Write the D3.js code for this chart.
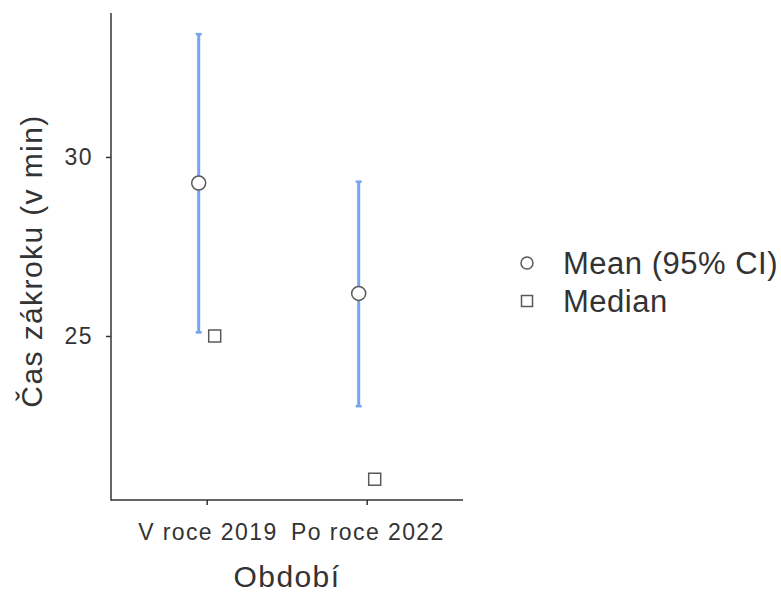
<!DOCTYPE html>
<html><head><meta charset="utf-8">
<script src="https://cdn.jsdelivr.net/npm/d3@7"></script>
<style>body{margin:0;background:#fff}svg{display:block}text{font-family:"Liberation Sans",Arial,sans-serif;fill:#333}</style>
</head><body><svg id="c" width="781" height="593"></svg>
<script>
const categories = ["V roce 2019", "Po roce 2022"];
const means = [29.27, 26.19];
const ciLower = [25.1, 23.04];
const ciUpper = [33.43, 29.31];
const medians = [25.0, 21.0];
const yTicks = [25, 30];
const legendLabels = ["Mean (95% CI)", "Median"];

const svg = d3.select("#c");
const plot = {left: 111, right: 463, top: 13, bottom: 500};
const y = d3.scaleLinear().domain([20.42, 34.02]).range([plot.bottom, plot.top]);
const x = d3.scalePoint().domain(categories).range([206.7, 366.7]);
const dodge = 8;
const axisColor = "#333";
const fontFam = '"Liberation Sans",Arial,sans-serif';

// axes
const yAxis = svg.append("g").attr("transform", `translate(${plot.left},0)`)
  .call(d3.axisLeft(y).tickValues(yTicks).tickSize(5).tickPadding(13).tickFormat(d3.format("d")));
const xAxis = svg.append("g").attr("transform", `translate(0,${plot.bottom})`)
  .call(d3.axisBottom(x).tickSize(5).tickPadding(0));
[yAxis, xAxis].forEach(g => {
  g.select(".domain").remove();
  g.selectAll(".tick line").attr("stroke", axisColor).attr("stroke-width", 1.5);
  g.selectAll(".tick text").attr("fill", "#444").style("font-size", "23px")
    .style("font-family", fontFam).style("letter-spacing", "1.4px");
});
xAxis.selectAll(".tick text").attr("dy", null).attr("y", 40).attr("dx", "0.7px");
svg.append("line").attr("x1", plot.left).attr("x2", plot.left).attr("y1", plot.top).attr("y2", plot.bottom + 0.75)
  .attr("stroke", axisColor).attr("stroke-width", 1.5);
svg.append("line").attr("x1", plot.left).attr("x2", plot.right).attr("y1", plot.bottom).attr("y2", plot.bottom)
  .attr("stroke", axisColor).attr("stroke-width", 1.5);

// axis titles
svg.append("text").attr("transform", `translate(42,261) rotate(-90)`)
  .attr("text-anchor", "middle").style("font-size", "30px").attr("fill", "#333")
  .style("letter-spacing", "1.4px").text("Čas zákroku (v min)");
svg.append("text").attr("x", 287).attr("y", 587)
  .attr("text-anchor", "middle").style("font-size", "30px").attr("fill", "#333")
  .style("letter-spacing", "1.4px").text("Období");

const blue = "#76a5ee";
const grey = "#595959";
// CI bars
const g = svg.append("g");
categories.forEach((c, i) => {
  const cx = x(c) - dodge;
  g.append("line").attr("x1", cx).attr("x2", cx).attr("y1", y(ciLower[i])).attr("y2", y(ciUpper[i]))
    .attr("stroke", blue).attr("stroke-width", 3);
  [ciLower[i], ciUpper[i]].forEach(v => {
    g.append("line").attr("x1", cx - 3).attr("x2", cx + 3).attr("y1", y(v)).attr("y2", y(v))
      .attr("stroke", blue).attr("stroke-width", 2.5);
  });
});
// means
g.selectAll("circle.mean").data(categories).join("circle").attr("class", "mean")
  .attr("cx", c => x(c) - dodge).attr("cy", (c, i) => y(means[i])).attr("r", 7)
  .attr("fill", "#fff").attr("stroke", grey).attr("stroke-width", 1.5);
// medians
const sq = 12;
g.selectAll("rect.median").data(categories).join("rect").attr("class", "median")
  .attr("x", c => x(c) + dodge - sq / 2).attr("y", (c, i) => y(medians[i]) - sq / 2)
  .attr("width", sq).attr("height", sq)
  .attr("fill", "#fff").attr("stroke", grey).attr("stroke-width", 1.5);

// legend
const lg = svg.append("g");
const legY = [263, 301];
lg.append("circle").attr("cx", 527).attr("cy", legY[0]).attr("r", 6)
  .attr("fill", "#fff").attr("stroke", grey).attr("stroke-width", 1.5);
lg.append("rect").attr("x", 521.5).attr("y", legY[1] - 5.5).attr("width", 11).attr("height", 11)
  .attr("fill", "#fff").attr("stroke", grey).attr("stroke-width", 1.5);
legendLabels.forEach((l, i) => {
  lg.append("text").attr("x", 563).attr("y", legY[i] + 11)
    .style("font-size", "31px").style("letter-spacing", "0.5px").attr("fill", "#333").text(l);
});
</script></body></html>
